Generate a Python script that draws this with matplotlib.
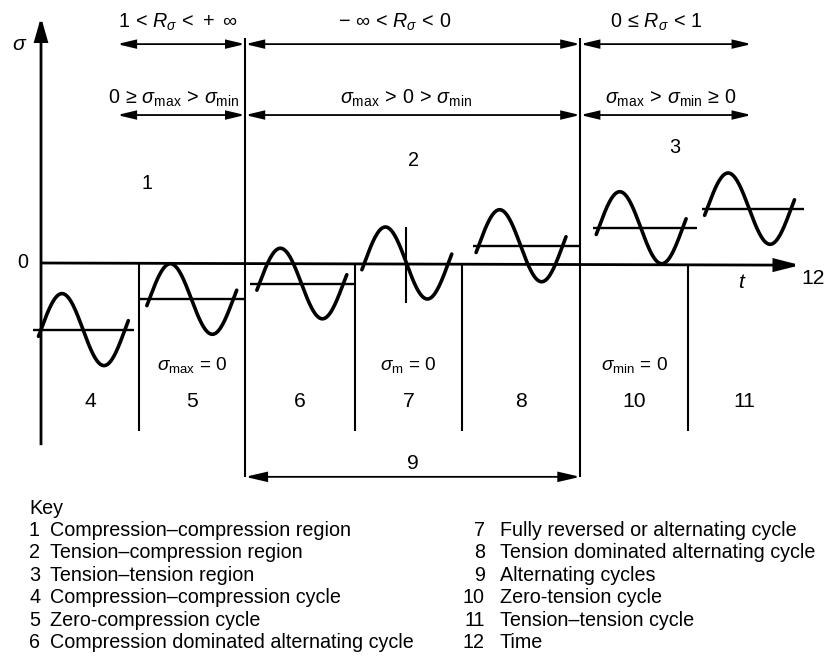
import numpy as np
import matplotlib
matplotlib.use('Agg')
import matplotlib.pyplot as plt
from matplotlib.patches import FancyArrowPatch

plt.rcParams['font.family'] = ['Liberation Sans', 'DejaVu Sans']
plt.rcParams['mathtext.fontset'] = 'custom'
plt.rcParams['mathtext.rm'] = 'Liberation Sans'
plt.rcParams['mathtext.it'] = 'Liberation Sans:italic'
plt.rcParams['mathtext.bf'] = 'Liberation Sans:bold'

# ---------------- data ----------------
segment_bounds = [0.0, 1.17, 2.43, 3.74, 5.01, 6.42, 7.70]   # t where each cycle segment starts
t_axis_end = 9.04
cycle_names = ['4', '5', '6', '7', '8', '10', '11']
cycle_mean = [-1.85, -1.0, -0.57, 0.0, 0.48, 0.98, 1.51]
cycle_amplitude = [1.0, 0.98, 0.98, 1.0, 1.0, 1.0, 0.99]
cycle_start = [0.0, 1.29, 2.60, 3.85, 5.21, 6.64, 7.93]
cycle_period = 1.0
mean_line_start = [-0.10, 1.17, 2.49, np.nan, 5.14, 6.57, 7.87]
mean_line_end = [1.11, 2.43, 3.74, np.nan, 6.42, 7.81, 9.08]

region_names = ['1', '2', '3']
region_bounds = [0.905, 2.43, 6.42, 8.46]
R_ranges = [r'$1\,<\,R_\sigma\,<\,+\ \infty$',
            r'$-\ \infty\,<\,R_\sigma\,<\,0$',
            r'$0\,\leq\,R_\sigma\,<\,1$']
stress_ranges = [r'$0\,\geq\,\sigma_{\mathrm{max}}\,>\,\sigma_{\mathrm{min}}$',
                 r'$\sigma_{\mathrm{max}}\,>\,0\,>\,\sigma_{\mathrm{min}}$',
                 r'$\sigma_{\mathrm{max}}\,>\,\sigma_{\mathrm{min}}\,\geq\,0$']
special_conditions = {'5': r'$\sigma_{\mathrm{max}}$ = 0', '7': r'$\sigma_{\mathrm{m}}$ = 0',
                      '10': r'$\sigma_{\mathrm{min}}$ = 0'}
key_numbers = ['1', '2', '3', '4', '5', '6', '7', '8', '9', '10', '11', '12']
key_texts = ['Compression\u2013compression region',
             'Tension\u2013compression region',
             'Tension\u2013tension region',
             'Compression\u2013compression cycle',
             'Zero-compression cycle',
             'Compression dominated alternating cycle',
             'Fully reversed or alternating cycle',
             'Tension dominated alternating cycle',
             'Alternating cycles',
             'Zero-tension cycle',
             'Tension\u2013tension cycle',
             'Time']

# ---------------- layout ----------------
W, H = 827, 657
PX_T, PX_S = 84.0, 36.0       # pixels per unit t / per unit sigma
X0, Y0 = 41.0, 263.0          # pixel position of the origin

fig = plt.figure(figsize=(W / 100, H / 100), dpi=100)
ax = fig.add_axes([0, 0, 1, 1])
ax.set_xlim(-X0 / PX_T, (W - X0) / PX_T)
ax.set_ylim((Y0 - H) / PX_S, Y0 / PX_S)
ax.axis('off')

K = 'black'
FS = 14.2

def arrow(p0, p1, style, lw, hl, hw):
    a = FancyArrowPatch(p0, p1, arrowstyle=f'{style},head_length={hl},head_width={hw}',
                        mutation_scale=1, lw=lw, color=K, shrinkA=0, shrinkB=0,
                        joinstyle='miter', capstyle='butt')
    ax.add_patch(a)

# axes
arrow((0, -5.06), (0, 6.83), '-|>', 2.0, 14, 4.0)
arrow((0, 0), (t_axis_end, -0.06), '-|>', 2.0, 15, 3.8)
ax.text(-0.215, 0.0, '0', fontsize=FS, ha='center', va='center')
ax.text(-0.25, 6.06, r'$\sigma$', fontsize=FS + 1, ha='center', va='center')
ax.text(8.35, -0.55, r'$t$', fontsize=FS + 1, ha='center', va='center')
ax.text(9.19, -0.44, '12', fontsize=FS + 1, ha='center', va='center')

# segment boundaries
long_bounds = [segment_bounds[2], segment_bounds[5]]
for i, b in enumerate(segment_bounds[1:], start=1):
    if b in long_bounds:
        ax.plot([b, b], [-5.94, 6.25], color=K, lw=1.5, solid_capstyle='butt')
    else:
        ax.plot([b, b], [-0.02, -4.68], color=K, lw=1.5, solid_capstyle='butt')

# region arrows and labels
row1_s, row2_s = 6.08, 4.11
r1_text_t = [1.63, 4.21, 7.32]
r2_text_t = [1.58, 4.35, 7.50]
region_label_pos = [(1.26, 2.22), (4.43, 2.86), (7.55, 3.22)]
for i in range(3):
    a, b = region_bounds[i], region_bounds[i + 1]
    arrow((a, row1_s), (b, row1_s), '<|-|>', 1.3, 11, 2.6)
    arrow((a, row2_s), (b, row2_s), '<|-|>', 1.3, 11, 2.6)
    ax.text(r1_text_t[i], 6.69, R_ranges[i], fontsize=FS, ha='center', va='center')
    ax.text(r2_text_t[i], 4.58, stress_ranges[i], fontsize=FS, ha='center', va='center')
    ax.text(*region_label_pos[i], region_names[i], fontsize=FS, ha='center', va='center')

# cycles
seg_ends = segment_bounds[1:] + [t_axis_end]
for i, name in enumerate(cycle_names):
    ph = np.linspace(-0.03, 1.04, 200)
    tt = cycle_start[i] + ph * cycle_period
    ss = cycle_mean[i] + cycle_amplitude[i] * np.sin(2 * np.pi * ph)
    ax.plot(tt, ss, color=K, lw=2.6, solid_capstyle='round')
    if not np.isnan(mean_line_start[i]):
        ax.plot([mean_line_start[i], mean_line_end[i]], [cycle_mean[i]] * 2,
                color=K, lw=1.7, solid_capstyle='butt')
    if cycle_mean[i] == 0.0:
        tm = cycle_start[i] + 0.5 * cycle_period
        ax.plot([tm, tm], [-1.08, 0.97], color=K, lw=1.5)
    centre = 0.5 * (segment_bounds[i] + seg_ends[i])
    ax.text(centre, -3.86, name, fontsize=FS + 1, ha='center', va='center')
    if name in special_conditions:
        ax.text(centre, -2.83, special_conditions[name], fontsize=FS - 0.5,
                ha='center', va='center')

# alternating cycles span (9)
arrow((segment_bounds[2], -5.94), (segment_bounds[5], -5.94), '<|-|>', 1.3, 13, 3.0)
ax.text(0.5 * (segment_bounds[2] + segment_bounds[5]), -5.56, '9', fontsize=FS + 1,
        ha='center', va='center')

# key
def fx(px):
    return px / W

def fy(py):
    return 1 - py / H

fig.text(fx(29), fy(508), 'Key', fontsize=FS, ha='left', va='center')
for i in range(6):
    y = 530 + 22.6 * i
    fig.text(fx(29), fy(y), key_numbers[i], fontsize=FS, ha='left', va='center')
    fig.text(fx(50), fy(y), key_texts[i], fontsize=FS, ha='left', va='center')
for i in range(6, 12):
    y = 530 + 22.6 * (i - 6)
    fig.text(fx(485), fy(y), key_numbers[i], fontsize=FS, ha='right', va='center')
    fig.text(fx(500), fy(y), key_texts[i], fontsize=FS, ha='left', va='center')

fig.savefig('out.png', dpi=100, facecolor='white')
